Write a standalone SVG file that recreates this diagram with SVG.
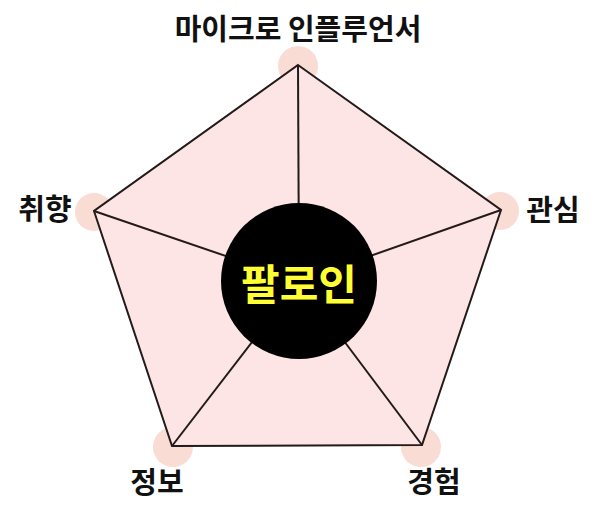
<svg xmlns="http://www.w3.org/2000/svg" width="600" height="515" viewBox="0 0 600 515">
<style>
.dot{fill:#f9ddd4}
.lbl{font-family:"Noto Sans CJK KR","Noto Sans",sans-serif;font-weight:bold;font-size:29px;fill:#111;text-anchor:middle}
.edge{stroke:#231a1a;stroke-width:2;fill:none}
</style>
<rect width="600" height="515" fill="#ffffff"/>
<g id="vertex-dots">
<circle class="dot" cx="298" cy="66" r="20"/>
<circle class="dot" cx="94" cy="212" r="19"/>
<circle class="dot" cx="500" cy="211" r="19"/>
<circle class="dot" cx="173" cy="447" r="20"/>
<circle class="dot" cx="421" cy="447" r="20"/>
</g>
<g id="pentagon">
<polygon points="298,65 501,210 422,445 172,446 94,211" fill="#fde5e5" stroke="#231a1a" stroke-width="2" stroke-linejoin="miter"/>
</g>
<g id="connectors">
<line class="edge" x1="298" y1="65" x2="299" y2="281"/>
<line class="edge" x1="501" y1="210" x2="299" y2="281"/>
<line class="edge" x1="422" y1="445" x2="299" y2="281"/>
<line class="edge" x1="172" y1="446" x2="299" y2="281"/>
<line class="edge" x1="94" y1="211" x2="299" y2="281"/>
</g>
<g id="center">
<circle cx="299" cy="281" r="78" fill="#000"/>
<text x="299" y="300" font-family="'Noto Sans CJK KR','Noto Sans',sans-serif" font-weight="bold" font-size="42" fill="#ffff33" text-anchor="middle">팔로인</text>
</g>
<g id="node-top"><text class="lbl" x="298" y="40">마이크로 인플루언서</text></g>
<g id="node-left"><text class="lbl" x="45" y="220">취향</text></g>
<g id="node-right"><text class="lbl" x="553" y="221">관심</text></g>
<g id="node-bottom-left"><text class="lbl" x="157" y="493">정보</text></g>
<g id="node-bottom-right"><text class="lbl" x="434" y="493">경험</text></g>
</svg>
